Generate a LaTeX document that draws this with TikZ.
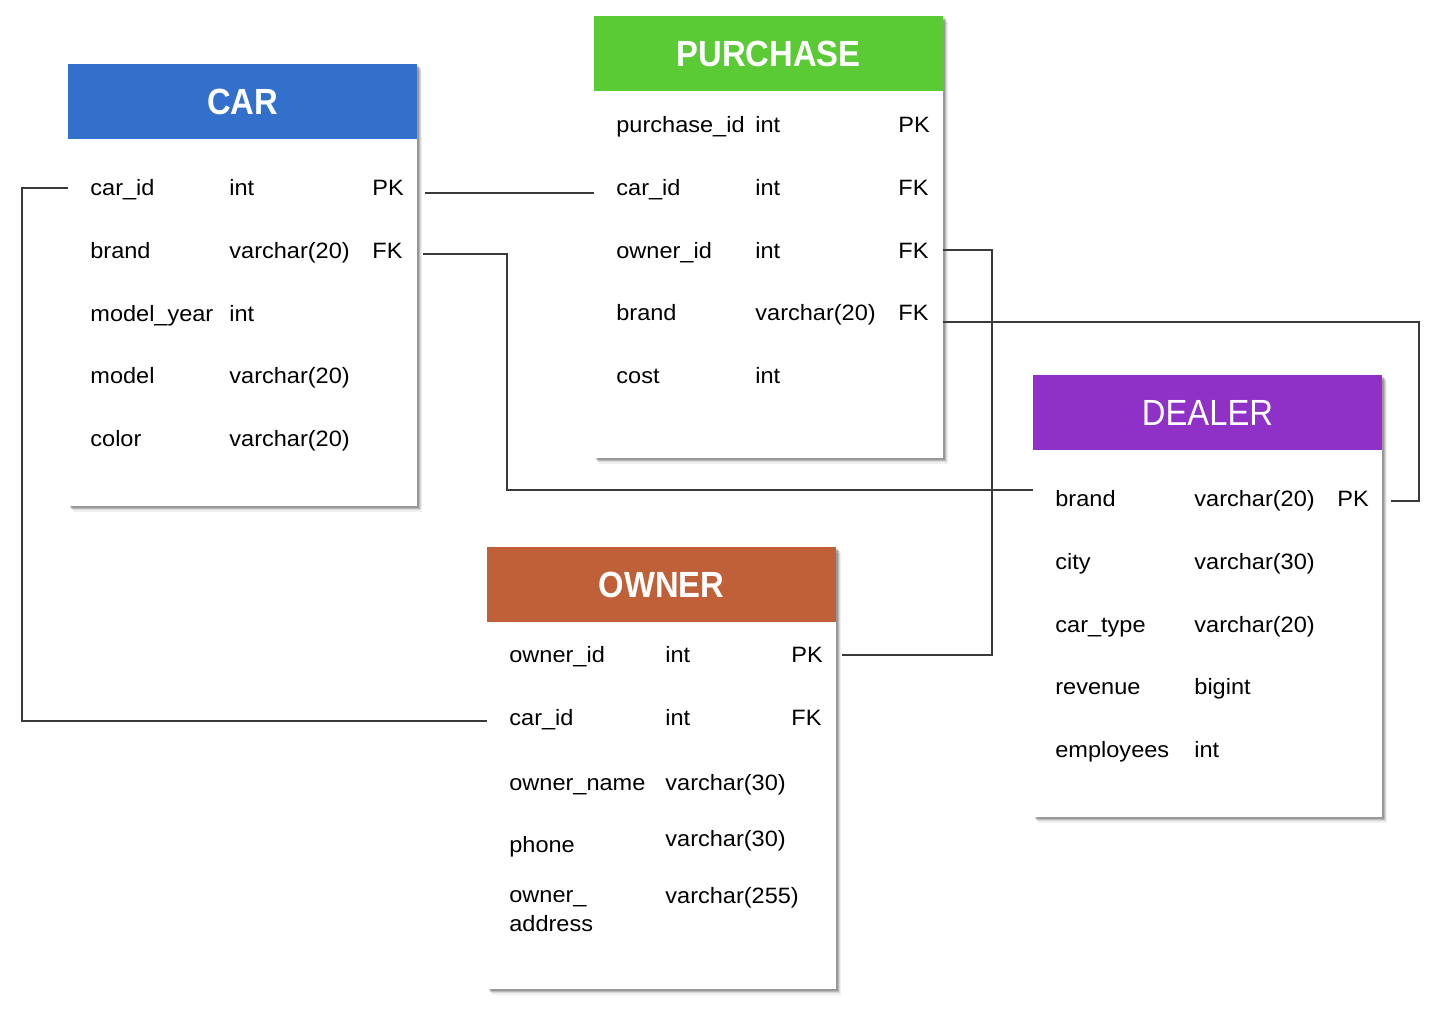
\documentclass[tikz,border=0pt]{standalone}
\usepackage{fontspec}
\setmainfont{Liberation Sans}[FakeStretch=1.06]
\newfontfamily\titlefont{Liberation Sans}[FakeStretch=0.9]
\usetikzlibrary{fit,shadows}
\definecolor{carblue}{HTML}{3370CC}
\definecolor{purgreen}{HTML}{5ACA35}
\definecolor{dealpurple}{HTML}{8F31C7}
\definecolor{ownorange}{HTML}{C06038}
\definecolor{linkgray}{HTML}{3A3A3A}
\begin{document}
\begin{tikzpicture}[x=0.5pt,y=-0.5pt,
  tbl/.style={draw=none, fill=white, inner sep=0pt,
    drop shadow={shadow xshift=2.6pt, shadow yshift=-2.8pt, opacity=0.06, fill=black},
    drop shadow={shadow xshift=2.0pt, shadow yshift=-2.2pt, opacity=0.10, fill=black},
    drop shadow={shadow xshift=1.4pt, shadow yshift=-1.6pt, opacity=0.14, fill=black},
    drop shadow={shadow xshift=0.8pt, shadow yshift=-1.0pt, opacity=0.18, fill=black}},
  hdr/.style={inner sep=0pt, draw=none},
  ttl/.style={text=white, inner sep=0pt, font=\titlefont\fontsize{18.2}{20}\selectfont\bfseries},
  ttlreg/.style={text=white, inner sep=0pt, font=\titlefont\fontsize{18.2}{20}\selectfont},
  cell/.style={anchor=base west, inner sep=0pt, text=black, font=\fontsize{11.1}{13}\selectfont},
  link/.style={draw=linkgray, line width=0.55pt}]
\useasboundingbox (0,0) rectangle (1440,1024);

% ---------- CAR ----------
\node[tbl, fit={(68,64) (417,506)}] (car) {};
\node[hdr, fill=carblue, fit={(68,64) (417,139)}] (carh) {};
\node[ttl] (cart) at (carh.center) {CAR};
\node[cell] (car-n1) at (90,195) {car\_id};
\node[cell] (car-t1) at (229,195) {int};
\node[cell] (car-k1) at (372,195) {PK};
\node[cell] (car-n2) at (90,258) {brand};
\node[cell] (car-t2) at (229,258) {varchar(20)};
\node[cell] (car-k2) at (372,258) {FK};
\node[cell] (car-n3) at (90,321) {model\_year};
\node[cell] (car-t3) at (229,321) {int};
\node[cell] (car-n4) at (90,383) {model};
\node[cell] (car-t4) at (229,383) {varchar(20)};
\node[cell] (car-n5) at (90,446) {color};
\node[cell] (car-t5) at (229,446) {varchar(20)};

% ---------- PURCHASE ----------
\node[tbl, fit={(594,16) (943,458)}] (pur) {};
\node[hdr, fill=purgreen, fit={(594,16) (943,91)}] (purh) {};
\node[ttl] (purt) at (purh.center) {PURCHASE};
\node[cell] (pur-n1) at (616,132) {purchase\_id};
\node[cell] (pur-t1) at (755,132) {int};
\node[cell] (pur-k1) at (898,132) {PK};
\node[cell] (pur-n2) at (616,195) {car\_id};
\node[cell] (pur-t2) at (755,195) {int};
\node[cell] (pur-k2) at (898,195) {FK};
\node[cell] (pur-n3) at (616,258) {owner\_id};
\node[cell] (pur-t3) at (755,258) {int};
\node[cell] (pur-k3) at (898,258) {FK};
\node[cell] (pur-n4) at (616,320) {brand};
\node[cell] (pur-t4) at (755,320) {varchar(20)};
\node[cell] (pur-k4) at (898,320) {FK};
\node[cell] (pur-n5) at (616,383) {cost};
\node[cell] (pur-t5) at (755,383) {int};

% ---------- DEALER ----------
\node[tbl, fit={(1033,375) (1382,817)}] (deal) {};
\node[hdr, fill=dealpurple, fit={(1033,375) (1382,450)}] (dealh) {};
\node[ttlreg] (dealt) at (dealh.center) {DEALER};
\node[cell] (deal-n1) at (1055,506) {brand};
\node[cell] (deal-t1) at (1194,506) {varchar(20)};
\node[cell] (deal-k1) at (1337,506) {PK};
\node[cell] (deal-n2) at (1055,569) {city};
\node[cell] (deal-t2) at (1194,569) {varchar(30)};
\node[cell] (deal-n3) at (1055,632) {car\_type};
\node[cell] (deal-t3) at (1194,632) {varchar(20)};
\node[cell] (deal-n4) at (1055,694) {revenue};
\node[cell] (deal-t4) at (1194,694) {bigint};
\node[cell] (deal-n5) at (1055,757) {employees};
\node[cell] (deal-t5) at (1194,757) {int};

% ---------- OWNER ----------
\node[tbl, fit={(487,547) (836,989)}] (own) {};
\node[hdr, fill=ownorange, fit={(487,547) (836,622)}] (ownh) {};
\node[ttl] (ownt) at (ownh.center) {OWNER};
\node[cell] (own-n1) at (509,662) {owner\_id};
\node[cell] (own-t1) at (665,662) {int};
\node[cell] (own-k1) at (791,662) {PK};
\node[cell] (own-n2) at (509,725) {car\_id};
\node[cell] (own-t2) at (665,725) {int};
\node[cell] (own-k2) at (791,725) {FK};
\node[cell] (own-n3) at (509,790) {owner\_name};
\node[cell] (own-t3) at (665,790) {varchar(30)};
\node[cell] (own-n4) at (509,852) {phone};
\node[cell] (own-t4) at (665,846) {varchar(30)};
\node[cell] (own-n5) at (509,902) {owner\_};
\node[cell] (own-n5b) at (509,931) {address};
\node[cell] (own-t5) at (665,903) {varchar(255)};

% ---------- connectors ----------
\coordinate (carpk-out) at (425,193);
\coordinate (carfk-out) at (423,254);
\coordinate (purown-out) at (943,250);
\coordinate (purbrand-out) at (943,322);
\coordinate (ownpk-in) at (842,655);
\coordinate (dealpk-in) at (1391,501);

\draw[link] (car.west |- 0,188) -- (22,188) |- (own.west |- 0,721);
\draw[link] (carpk-out) -- (pur.west |- carpk-out);
\draw[link] (carfk-out) -- (507,254) |- (deal.west |- 0,490);
\draw[link] (purown-out) -- (992,250) |- (ownpk-in);
\draw[link] (purbrand-out) -- (1419,322) |- (dealpk-in);
\end{tikzpicture}
\end{document}
